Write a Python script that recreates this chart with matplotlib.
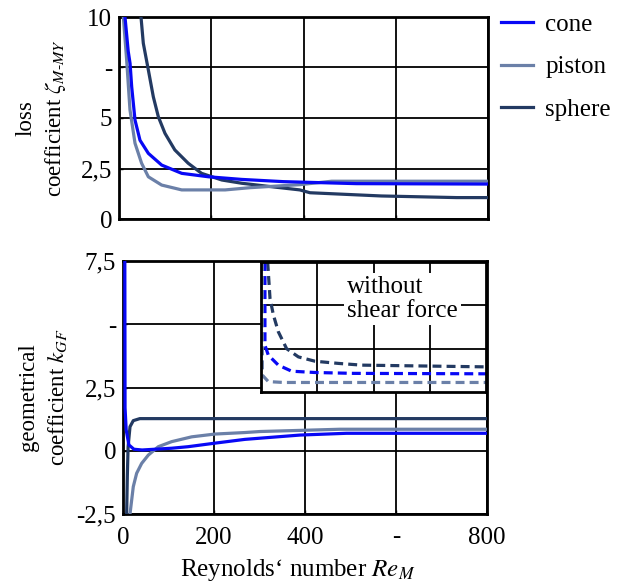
import numpy as np
import matplotlib
matplotlib.use("Agg")
import matplotlib.pyplot as plt

plt.rcParams['font.family'] = ['Liberation Serif', 'STIXGeneral', 'DejaVu Serif']
plt.rcParams['mathtext.fontset'] = 'stix'
plt.rcParams['font.size'] = 17

# curve colours
c_cone = '#0808f5'
c_piston = '#6b80a8'
c_sphere = '#233a62'

# top panel: loss coefficient
cone_top_x = [13, 20, 24, 27.5, 34.7, 45.5, 63.6, 92.5, 136, 194, 266, 356, 515, 800]
cone_top_y = [10, 8.3, 7.7, 6.55, 4.9, 3.9, 3.25, 2.67, 2.26, 2.09, 1.96, 1.85, 1.75, 1.73]
piston_top_x = [9.4, 16.6, 23.8, 34.7, 49, 63.6, 92.5, 136, 230, 284, 392, 461, 800]
piston_top_y = [10, 7.87, 5.4, 3.75, 2.76, 2.09, 1.68, 1.44, 1.44, 1.55, 1.7, 1.87, 1.87]
sphere_top_x = [47.7, 52.7, 63.6, 74.4, 85.3, 99.7, 121, 150, 179, 223, 266, 330,
                392, 414, 472, 569, 732, 800]
sphere_top_y = [10, 8.7, 7.38, 6.05, 5.06, 4.24, 3.42, 2.76, 2.26, 1.93, 1.77, 1.6,
                1.44, 1.3, 1.24, 1.14, 1.06, 1.06]

# bottom panel: geometrical coefficient
cone_bot_x = [4, 4.5, 7, 13, 24, 42, 107, 143, 202, 268, 389, 491, 800]
cone_bot_y = [7.5, 1.7, 0.82, 0.23, 0.06, 0.03, 0.1, 0.16, 0.3, 0.45, 0.62, 0.69, 0.69]
piston_bot_x = [15.4, 22.6, 30, 41, 55.7, 77.6, 107, 151, 202, 268, 301, 477, 800]
piston_bot_y = [-2.5, -1.42, -0.89, -0.5, -0.17, 0.16, 0.36, 0.55, 0.66, 0.72, 0.76, 0.85, 0.85]
sphere_bot_x = [8, 9.5, 11.2, 15.4, 22.6, 37, 800]
sphere_bot_y = [-2.5, -1.0, 0.16, 0.95, 1.19, 1.27, 1.27]

# inset: without shear force
cone_in_x = [14, 14, 26, 61.6, 109, 192, 330, 800]
cone_in_y = [3, 1.08, 0.85, 0.62, 0.48, 0.45, 0.43, 0.42]
piston_in_x = [4.7, 4.7, 26, 80, 800]
piston_in_y = [3, 0.39, 0.24, 0.22, 0.22]
sphere_in_x = [23.7, 32, 44, 61.6, 91, 133, 192, 275, 358, 800]
sphere_in_y = [3, 2.16, 1.78, 1.39, 1.0, 0.81, 0.71, 0.66, 0.62, 0.58]

x_ticks = [0, 200, 400, 600, 800]
x_labels = ['0', '200', '400', '-', '800']
top_ticks = [0, 2.5, 5, 7.5, 10]
top_labels = ['0', '2,5', '5', '-', '10']
bot_ticks = [-2.5, 0, 2.5, 5, 7.5]
bot_labels = ['-2,5', '0', '2,5', '-', '7,5']

W, H = 622, 583
fig = plt.figure(figsize=(W / 100, H / 100), dpi=100)


def px_axes(l, t, r, b):
    return fig.add_axes([l / W, 1 - b / H, (r - l) / W, (b - t) / H])


def style(ax):
    for s in ax.spines.values():
        s.set_linewidth(2)
    ax.grid(True, color='black', linewidth=1.3)
    ax.tick_params(direction='in', length=3, width=1, pad=5, labelsize=18)
    ax.set_axisbelow(True)


lw = 2.3
ax1 = px_axes(119, 17, 488, 219)
ax1.plot(sphere_top_x, sphere_top_y, color=c_sphere, lw=lw, label='sphere', zorder=3)
ax1.plot(piston_top_x, piston_top_y, color=c_piston, lw=lw, label='piston', zorder=3)
ax1.plot(cone_top_x, cone_top_y, color=c_cone, lw=lw, label='cone', zorder=4)
ax1.set_xlim(0, 800)
ax1.set_ylim(0, 10)
ax1.set_xticks(x_ticks)
ax1.set_xticklabels([])
ax1.set_yticks(top_ticks)
ax1.set_yticklabels(top_labels)
style(ax1)
ax1.set_ylabel('loss\ncoefficient $\\zeta_{M\\text{-}MY}$', fontsize=16.5, linespacing=1.4)
ax1.yaxis.set_label_coords(-0.137, 0.5)

h, l = ax1.get_legend_handles_labels()
order = [2, 1, 0]
fig.legend([h[i] for i in order], [l[i] for i in order], loc='upper left',
           bbox_to_anchor=(478 / W, 1 + 9 / H), frameon=False, handlelength=1.3,
           handletextpad=0.5, labelspacing=0.8, fontsize=18)

ax2 = px_axes(123, 261, 487, 514)
ax2.plot(sphere_bot_x, sphere_bot_y, color=c_sphere, lw=lw, zorder=3)
ax2.plot(piston_bot_x, piston_bot_y, color=c_piston, lw=lw, zorder=3)
ax2.plot(cone_bot_x, cone_bot_y, color=c_cone, lw=lw, zorder=4)
ax2.set_xlim(0, 800)
ax2.set_ylim(-2.5, 7.5)
ax2.set_xticks(x_ticks)
ax2.set_xticklabels(x_labels)
ax2.set_yticks(bot_ticks)
ax2.set_yticklabels(bot_labels)
style(ax2)
ax2.tick_params(axis='x', pad=9)
ax2.set_xlabel("Reynolds\u2018 number $Re_M$", fontsize=18)
ax2.xaxis.set_label_coords((298 - 123) / 364, -(557 - 514) / 253)
ax2.set_ylabel('geometrical\ncoefficient $k_{GF}$', fontsize=16.5, linespacing=1.4)
ax2.yaxis.set_label_coords(-0.147, 0.46)

ax3 = px_axes(261, 262, 486, 392)
dash = (2.8, 1.6)
ax3.plot(sphere_in_x, sphere_in_y, color=c_sphere, lw=lw, dashes=dash)
ax3.plot(cone_in_x, cone_in_y, color=c_cone, lw=lw, dashes=dash)
ax3.plot(piston_in_x, piston_in_y, color=c_piston, lw=lw, dashes=dash)
ax3.set_xlim(0, 800)
ax3.set_ylim(0, 3)
ax3.set_xticks([200, 400, 600])
ax3.set_yticks([1, 2])
ax3.set_xticklabels([])
ax3.set_yticklabels([])
style(ax3)
ax3.tick_params(length=0)
ax3.text((347 - 261) / 225, (392 - 299) / 130, 'without\nshear force', transform=ax3.transAxes,
         ha='left', va='center', fontsize=18, linespacing=1.15,
         bbox=dict(facecolor='white', edgecolor='none', pad=2))

fig.savefig('out.png', dpi=100)
